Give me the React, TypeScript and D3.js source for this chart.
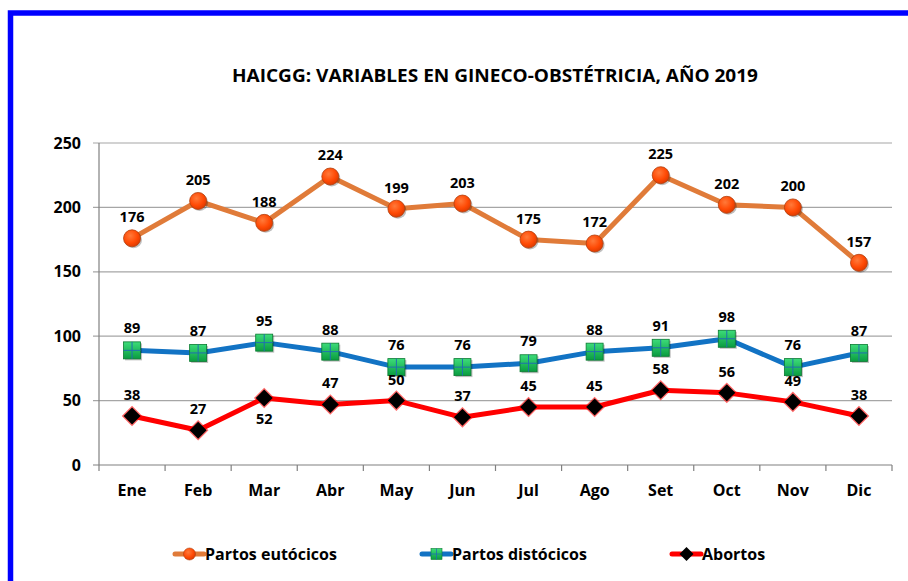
import React from "react";
import * as d3 from "d3";

const months = ["Ene", "Feb", "Mar", "Abr", "May", "Jun", "Jul", "Ago", "Set", "Oct", "Nov", "Dic"];
const eutocicos = [176, 205, 188, 224, 199, 203, 175, 172, 225, 202, 200, 157];
const distocicos = [89, 87, 95, 88, 76, 76, 79, 88, 91, 98, 76, 87];
const abortos = [38, 27, 52, 47, 50, 37, 45, 45, 58, 56, 49, 38];
const abortosLabelBelow = [false, false, true, false, false, false, false, false, false, false, false, false];
const yTicks = [0, 50, 100, 150, 200, 250];
const title = "HAICGG: VARIABLES EN GINECO-OBSTÉTRICIA, AÑO 2019";
const seriesNames = ["Partos eutócicos", "Partos distócicos", "Abortos"];

const W = 908;
const H = 581;
const left = 99;
const right = 892;
const top = 143;
const bottom = 465;
const FONT = "'Open Sans', 'Noto Sans', sans-serif";

export default function App() {
  const x = d3.scaleBand<string>().domain(months).range([left, right]);
  const cx = (m: string) => (x(m) as number) + x.bandwidth() / 2;
  const y = d3.scaleLinear().domain([0, 250]).range([bottom, top]);
  const line = d3
    .line<number>()
    .x((_, i) => cx(months[i]))
    .y((v) => y(v));

  const circle = (px: number, py: number, key: string) => (
    <g key={key}>
      <circle cx={px + 1.5} cy={py + 1.5} r={8.5} fill="#000" opacity={0.25} />
      <circle cx={px} cy={py} r={8.5} fill="url(#gOrange)" stroke="#b0400f" strokeWidth={0.8} />
    </g>
  );
  const square = (px: number, py: number, key: string, s = 17) => (
    <g key={key}>
      <rect x={px - s / 2 + 1.5} y={py - s / 2 + 1.5} width={s} height={s} fill="#000" opacity={0.25} />
      <rect x={px - s / 2} y={py - s / 2} width={s} height={s} fill="url(#gGreen)" stroke="#0a7a30" strokeWidth={0.8} />
      <line x1={px} x2={px} y1={py - s / 2} y2={py + s / 2} stroke="#1f6fb0" strokeWidth={1} />
      <line x1={px - s / 2} x2={px + s / 2} y1={py} y2={py} stroke="#1f6fb0" strokeWidth={1} />
    </g>
  );
  const diamond = (px: number, py: number, key: string, r = 8.5) => (
    <g key={key}>
      <path
        d={`M${px},${py - r - 1.8}L${px + r + 1.8},${py}L${px},${py + r + 1.8}L${px - r - 1.8},${py}Z`}
        fill="#ff0000"
        opacity={0.6}
      />
      <path d={`M${px},${py - r}L${px + r},${py}L${px},${py + r}L${px - r},${py}Z`} fill="#000" />
    </g>
  );

  const labelStyle = { fontFamily: FONT, fontWeight: 700, fontSize: 14.5, fill: "#000" } as const;

  return (
    <svg
      width={W}
      height={H}
      style={{ position: "absolute", left: 0, top: 0, background: "#fff" }}
    >
      <defs>
        <radialGradient id="gOrange" cx="40%" cy="35%" r="70%">
          <stop offset="0%" stopColor="#ff7a3a" />
          <stop offset="60%" stopColor="#ff4a05" />
          <stop offset="100%" stopColor="#d83800" />
        </radialGradient>
        <linearGradient id="gGreen" x1="0" y1="0" x2="0" y2="1">
          <stop offset="0%" stopColor="#3ddc7a" />
          <stop offset="100%" stopColor="#0a9c40" />
        </linearGradient>
      </defs>
      {/* border */}
      <rect x={10.5} y={13} width={W + 20} height={H + 20} fill="none" stroke="#0000ff" strokeWidth={5.5} />

      {/* title */}
      <text
        x={495}
        y={82}
        textAnchor="middle"
        style={{ fontFamily: FONT, fontWeight: 700, fontSize: 17 }}
        textLength={526}
        lengthAdjust="spacingAndGlyphs"
      >
        {title}
      </text>

      {/* gridlines and y axis */}
      {yTicks.map((t) => (
        <g key={t}>
          <line
            x1={left - 6}
            x2={right}
            y1={y(t)}
            y2={y(t)}
            stroke={t === 0 ? "#808080" : "#a6a6a6"}
            strokeWidth={1.2}
          />
          <text x={81} y={y(t)} dy="0.35em" textAnchor="end" style={{ fontFamily: FONT, fontWeight: 700, fontSize: 16 }}>
            {t}
          </text>
        </g>
      ))}
      <line x1={left} x2={left} y1={top} y2={bottom + 6} stroke="#808080" strokeWidth={1.2} />
      {months.map((m) => (
        <line
          key={m}
          x1={(x(m) as number) + x.bandwidth()}
          x2={(x(m) as number) + x.bandwidth()}
          y1={bottom}
          y2={bottom + 6}
          stroke="#808080"
          strokeWidth={1.2}
        />
      ))}
      {months.map((m) => (
        <text key={m} x={cx(m)} y={496} textAnchor="middle" style={{ fontFamily: FONT, fontWeight: 700, fontSize: 16 }}>
          {m}
        </text>
      ))}

      {/* lines */}
      <path d={line(eutocicos) as string} fill="none" stroke="#e07b39" strokeWidth={5} strokeLinejoin="round" />
      <path d={line(distocicos) as string} fill="none" stroke="#1273c4" strokeWidth={5} strokeLinejoin="round" />
      <path d={line(abortos) as string} fill="none" stroke="#ff0000" strokeWidth={5} strokeLinejoin="round" />

      {eutocicos.map((v, i) => circle(cx(months[i]), y(v), "e" + i))}
      {distocicos.map((v, i) => square(cx(months[i]), y(v), "d" + i))}
      {abortos.map((v, i) => diamond(cx(months[i]), y(v), "a" + i))}

      {/* data labels */}
      {eutocicos.map((v, i) => (
        <text key={"le" + i} x={cx(months[i])} y={y(v) - 16} textAnchor="middle" style={labelStyle}>
          {v}
        </text>
      ))}
      {distocicos.map((v, i) => (
        <text key={"ld" + i} x={cx(months[i])} y={y(v) - 17} textAnchor="middle" style={labelStyle}>
          {v}
        </text>
      ))}
      {abortos.map((v, i) => (
        <text
          key={"la" + i}
          x={cx(months[i])}
          y={abortosLabelBelow[i] ? y(v) + 26 : y(v) - 16}
          textAnchor="middle"
          style={labelStyle}
        >
          {v}
        </text>
      ))}

      {/* legend */}
      {[
        { x0: 175, name: seriesNames[0], color: "#e07b39", kind: "c" },
        { x0: 422, name: seriesNames[1], color: "#1273c4", kind: "s" },
        { x0: 672, name: seriesNames[2], color: "#ff0000", kind: "d" },
      ].map((l) => (
        <g key={l.name}>
          <line x1={l.x0} x2={l.x0 + 29} y1={554} y2={554} stroke={l.color} strokeWidth={5} strokeLinecap="round" />
          {l.kind === "c" && (
            <circle cx={l.x0 + 14.5} cy={554} r={6} fill="url(#gOrange)" stroke="#b0400f" strokeWidth={0.6} />
          )}
          {l.kind === "s" && (
            <g>
              <rect x={l.x0 + 9} y={548.5} width={11} height={11} fill="url(#gGreen)" stroke="#0a7a30" strokeWidth={0.6} />
              <line x1={l.x0 + 14.5} x2={l.x0 + 14.5} y1={548.5} y2={559.5} stroke="#1f6fb0" strokeWidth={0.8} />
              <line x1={l.x0 + 9} x2={l.x0 + 20} y1={554} y2={554} stroke="#1f6fb0" strokeWidth={0.8} />
            </g>
          )}
          {l.kind === "d" && (
            <path
              d={`M${l.x0 + 14.5},${547}L${l.x0 + 21.5},${554}L${l.x0 + 14.5},${561}L${l.x0 + 7.5},${554}Z`}
              fill="#000"
            />
          )}
          <text x={l.x0 + 30} y={554} dy="0.35em" style={{ fontFamily: FONT, fontWeight: 700, fontSize: 16 }}>
            {l.name}
          </text>
        </g>
      ))}
    </svg>
  );
}
